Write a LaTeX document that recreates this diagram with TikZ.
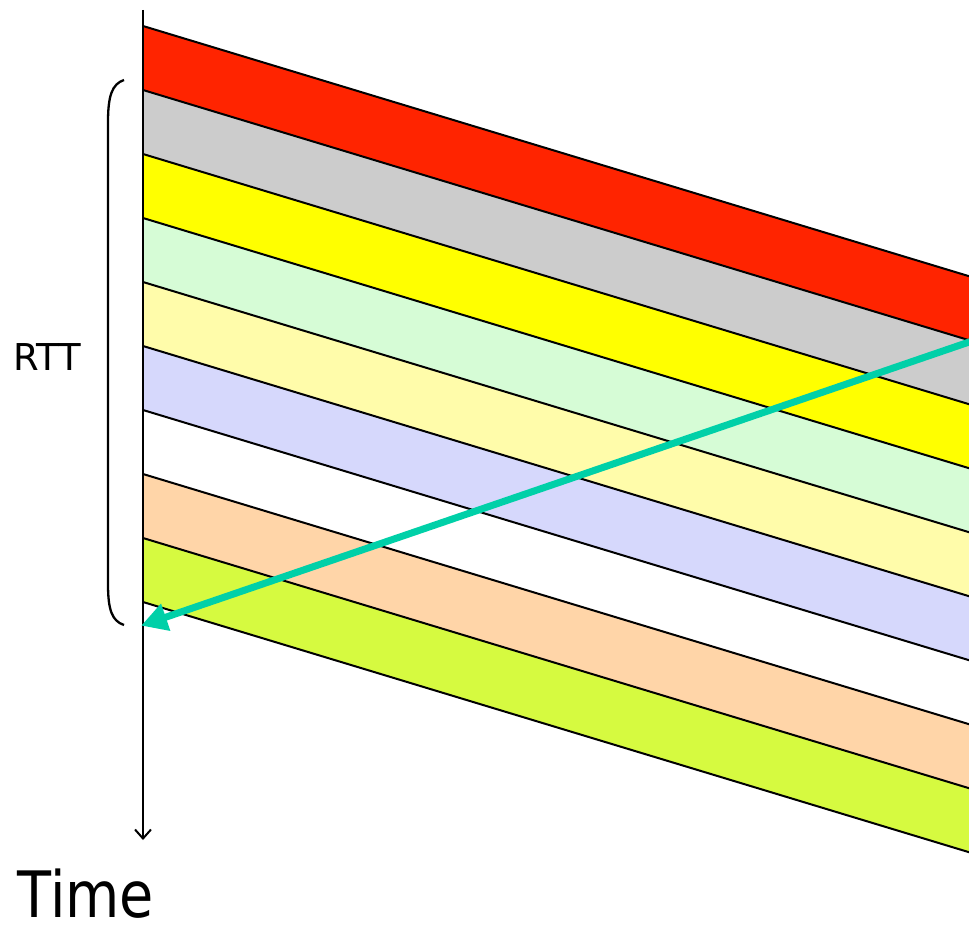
\documentclass[tikz,border=0pt]{standalone}
\usepackage{fontspec}
\setmainfont{DejaVu Sans}
\usetikzlibrary{arrows.meta}
\definecolor{bandred}{RGB}{255,36,0}
\definecolor{bandgrey}{RGB}{204,204,204}
\definecolor{bandyellow}{RGB}{255,255,0}
\definecolor{bandmint}{RGB}{214,252,214}
\definecolor{bandcream}{RGB}{255,252,170}
\definecolor{bandlilac}{RGB}{214,216,252}
\definecolor{bandwhite}{RGB}{255,255,255}
\definecolor{bandpeach}{RGB}{255,213,168}
\definecolor{bandlime}{RGB}{214,250,64}
\definecolor{ackteal}{RGB}{0,208,168}
\tikzset{
  edge/.style={draw=black, line width=2pt},
  axis/.style={draw=black, line width=2pt, -{Straight Barb[length=9pt,width=16pt,line width=2pt]}},
  ack/.style={draw=ackteal, line width=7pt, -{Triangle[length=26pt,width=27pt]}, shorten >=-2pt},
  brace/.style={draw=black, line width=2.3pt},
  label/.style={font=\fontsize{37}{40}\selectfont, inner sep=0pt},
}
\begin{document}
\begin{tikzpicture}[x=1pt,y=-1pt]
  \useasboundingbox (0,0) rectangle (969,950);
  % packets in flight: each band slopes 252 units down across the width
  \foreach \c [count=\k from 0] in {bandred,bandgrey,bandyellow,bandmint,bandcream,bandlilac,bandwhite,bandpeach,bandlime}{
    \pgfmathsetmacro{\yl}{26+64*\k}
    \pgfmathsetmacro{\yr}{278+64*\k}
    \fill[\c] (143,\yl) -- (975,\yr) -- (975,\yr+64) -- (143,\yl+64) -- cycle;
  }
  \foreach \k in {0,...,9}{
    \pgfmathsetmacro{\yl}{26+64*\k}
    \pgfmathsetmacro{\yr}{278+64*\k}
    \draw[edge] (143,\yl) -- (975,\yr);
  }
  % time axis
  \coordinate (axtop) at (143,10);
  \coordinate (axbot) at (143,840);
  \draw[axis] (axtop) -- (axbot);
  % acknowledgement returning to the sender
  \coordinate (ackfrom) at (975,340);
  \coordinate (ackto) at (143,625);
  \draw[ack] (ackfrom) -- (ackto);
  % round-trip brace
  \coordinate (bracetop) at (124,80);
  \coordinate (bracebot) at (124,625);
  \draw[brace] (bracetop) .. controls (112,84) and (108,96) .. (108,122)
    -- (108,584) .. controls (108,610) and (112,621) .. (bracebot);
  \node[label, anchor=base] (rtt) at (47,370) {RTT};
  \node[label, anchor=base, font=\fontsize{64}{70}\selectfont, xscale=0.87, transform shape] (time) at (86,917) {Time};
\end{tikzpicture}
\end{document}
